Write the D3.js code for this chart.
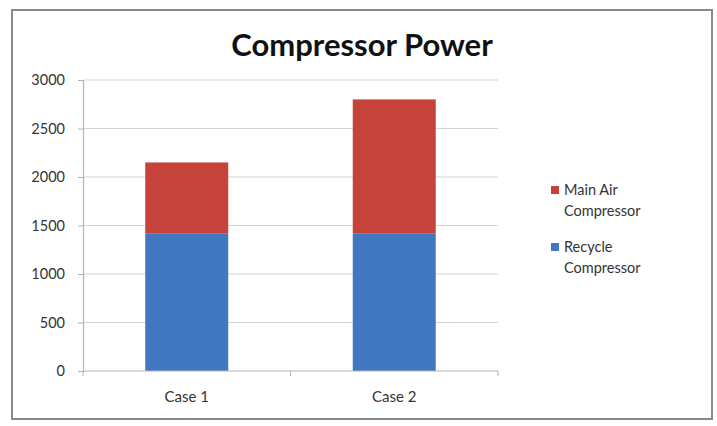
<!DOCTYPE html>
<html>
<head>
<meta charset="utf-8">
<script src="https://cdn.jsdelivr.net/npm/d3@7"></script>
<style>
  html, body { margin: 0; padding: 0; background: #fff; }
  svg { display: block; }
  text { font-family: Lato, "Open Sans", sans-serif; }
</style>
</head>
<body>
<svg id="chart" width="717" height="426"></svg>
<script>
// Stacked compressor power per case
const categories = ["Case 1", "Case 2"];
const seriesNames = ["Recycle Compressor", "Main Air Compressor"];
const recycleCompressor = [1420, 1420];
const mainAirCompressor = [730, 1380];
const yTicks = [0, 500, 1000, 1500, 2000, 2500, 3000];
const seriesColors = ["#4177c0", "#c5433b"];

const svg = d3.select("#chart");

// outer chart frame
svg.append("rect")
  .attr("x", 12).attr("y", 10)
  .attr("width", 700).attr("height", 409)
  .attr("fill", "#fff")
  .attr("stroke", "#8a8a8a").attr("stroke-width", 2);

const plot = { left: 83, right: 498, top: 80, bottom: 371 };

const x = d3.scaleBand()
  .domain(categories)
  .range([plot.left, plot.right])
  .paddingInner(0.6)
  .paddingOuter(0.3);

const y = d3.scaleLinear()
  .domain([0, 3000])
  .range([plot.bottom, plot.top]);

// horizontal gridlines
svg.append("g")
  .selectAll("line")
  .data(yTicks.filter(d => d > 0))
  .join("line")
  .attr("x1", plot.left).attr("x2", plot.right)
  .attr("y1", d => y(d)).attr("y2", d => y(d))
  .attr("stroke", "#d4d4d4").attr("stroke-width", 1.2);

// stacked bars
const rows = categories.map((c, i) => ({
  category: c,
  "Recycle Compressor": recycleCompressor[i],
  "Main Air Compressor": mainAirCompressor[i]
}));
const stacked = d3.stack().keys(seriesNames)(rows);

svg.append("g")
  .selectAll("g")
  .data(stacked)
  .join("g")
  .attr("fill", (d, i) => seriesColors[i])
  .selectAll("rect")
  .data(d => d)
  .join("rect")
  .attr("x", d => x(d.data.category))
  .attr("width", x.bandwidth())
  .attr("y", d => y(d[1]))
  .attr("height", d => y(d[0]) - y(d[1]));

// y axis
const yAxis = d3.axisLeft(y)
  .tickValues(yTicks)
  .tickSize(5)
  .tickPadding(13)
  .tickFormat(d3.format("d"));
const yg = svg.append("g")
  .attr("transform", `translate(${plot.left},0)`)
  .call(yAxis);
yg.select(".domain").attr("stroke", "#b4b4b4").attr("stroke-width", 1.2);
yg.selectAll(".tick line").attr("stroke", "#b4b4b4");
yg.selectAll(".tick text")
  .attr("fill", "#333")
  .style("font-size", "14.5px");

// x axis with tick marks at category boundaries
const xg = svg.append("g")
  .attr("transform", `translate(0,${plot.bottom})`);
xg.append("line")
  .attr("x1", plot.left).attr("x2", plot.right)
  .attr("stroke", "#b4b4b4").attr("stroke-width", 1.2);
const bounds = [plot.left, plot.left + (plot.right - plot.left) / 2, plot.right];
xg.selectAll("line.tick")
  .data(bounds)
  .join("line")
  .attr("class", "tick")
  .attr("x1", d => d).attr("x2", d => d)
  .attr("y1", 0).attr("y2", 5)
  .attr("stroke", "#b4b4b4");
xg.selectAll("text")
  .data(categories)
  .join("text")
  .attr("x", d => x(d) + x.bandwidth() / 2)
  .attr("y", 31)
  .attr("text-anchor", "middle")
  .attr("fill", "#333")
  .style("font-size", "15px")
  .text(d => d);

// title
svg.append("text")
  .attr("x", 362).attr("y", 56)
  .attr("text-anchor", "middle")
  .attr("fill", "#111")
  .style("font-size", "31px")
  .style("font-weight", "bold")
  .text("Compressor Power");

// legend (top series listed first)
const legendItems = [
  { lines: ["Main Air", "Compressor"], color: seriesColors[1] },
  { lines: ["Recycle", "Compressor"], color: seriesColors[0] }
];
const legend = svg.append("g");
legendItems.forEach((item, i) => {
  const g = legend.append("g").attr("transform", `translate(551,${190 + i * 57})`);
  g.append("rect")
    .attr("x", 0).attr("y", -4)
    .attr("width", 8).attr("height", 8)
    .attr("fill", item.color);
  item.lines.forEach((t, j) => {
    g.append("text")
      .attr("x", 13).attr("y", 5 + j * 21)
      .attr("fill", "#333")
      .style("font-size", "14.5px")
      .text(t);
  });
});
</script>
</body>
</html>
